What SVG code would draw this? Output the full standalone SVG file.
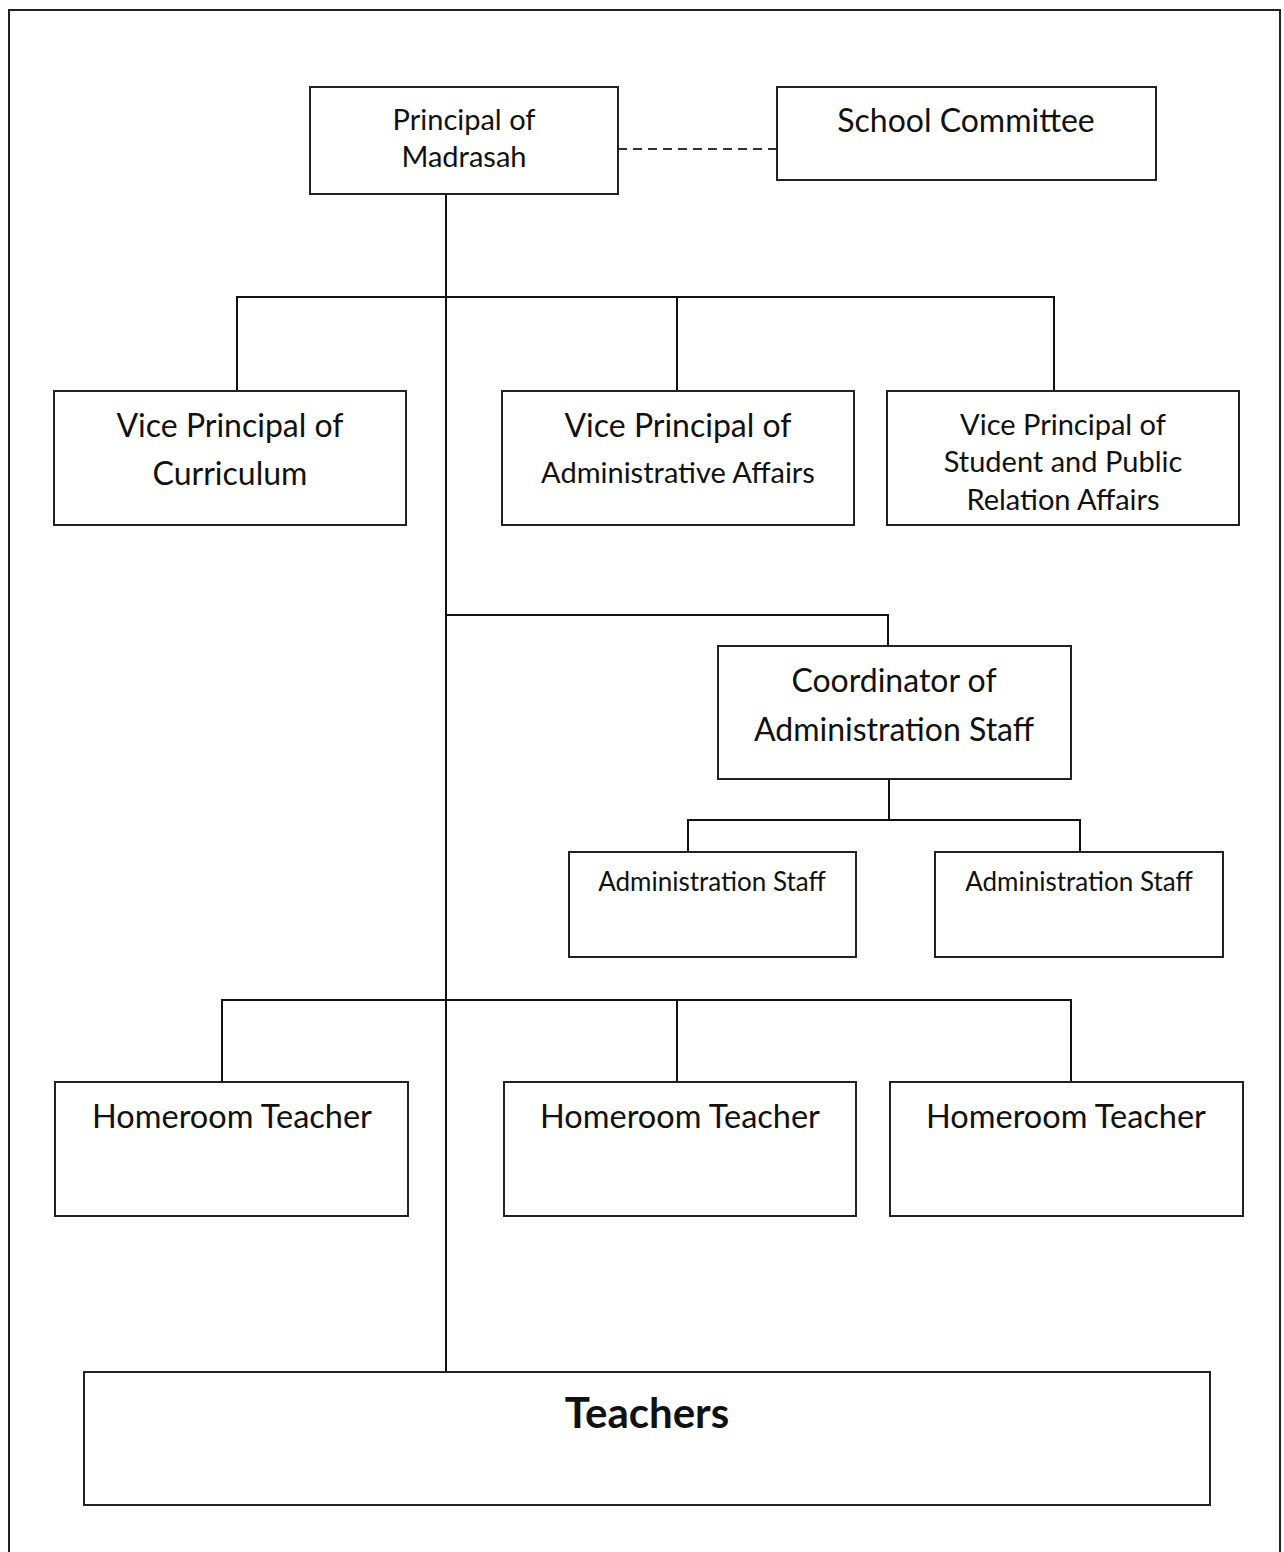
<svg xmlns="http://www.w3.org/2000/svg" width="1284" height="1552" viewBox="0 0 1284 1552">
<style>
.box{fill:#fff;stroke:#222;stroke-width:2}
.ln{fill:none;stroke:#111;stroke-width:2}
.dash{fill:none;stroke:#333;stroke-width:2;stroke-dasharray:9 6}
text{font-family:Lato,"Open Sans","Liberation Sans",sans-serif;fill:#111;text-anchor:middle}
.b{font-weight:bold}
</style>
<rect x="9" y="10" width="1271" height="1560" fill="#fff" stroke="#222" stroke-width="2"/>
<g id="connectors">
<line class="dash" x1="618" y1="149" x2="777" y2="149"/>
<line class="ln" x1="446" y1="194" x2="446" y2="1372"/>
<polyline class="ln" points="237,391 237,297 1054,297 1054,391"/>
<line class="ln" x1="677" y1="297" x2="677" y2="391"/>
<polyline class="ln" points="446,615 888,615 888,646"/>
<line class="ln" x1="889" y1="779" x2="889" y2="820"/>
<polyline class="ln" points="688,852 688,820 1080,820 1080,852"/>
<polyline class="ln" points="222,1082 222,1000 1071,1000 1071,1082"/>
<line class="ln" x1="677" y1="1000" x2="677" y2="1082"/>
</g>
<g id="principal">
<rect class="box" x="310" y="87" width="308" height="107"/>
<text x="464" y="130" font-size="29">Principal of</text>
<text x="464" y="167" font-size="29">Madrasah</text>
</g>
<g id="committee">
<rect class="box" x="777" y="87" width="379" height="93"/>
<text x="966" y="132" font-size="32">School Committee</text>
</g>
<g id="vp-curriculum">
<rect class="box" x="54" y="391" width="352" height="134"/>
<text x="230" y="437" font-size="32">Vice Principal of</text>
<text x="230" y="485" font-size="32">Curriculum</text>
</g>
<g id="vp-admin">
<rect class="box" x="502" y="391" width="352" height="134"/>
<text x="678" y="437" font-size="32">Vice Principal of</text>
<text x="678" y="483" font-size="29">Administrative Affairs</text>
</g>
<g id="vp-student">
<rect class="box" x="887" y="391" width="352" height="134"/>
<text x="1063" y="435" font-size="29">Vice Principal of</text>
<text x="1063" y="472" font-size="29">Student and Public</text>
<text x="1063" y="510" font-size="29">Relation Affairs</text>
</g>
<g id="coordinator">
<rect class="box" x="718" y="646" width="353" height="133"/>
<text x="894" y="692" font-size="32">Coordinator of</text>
<text x="894" y="741" font-size="32">Administration Staff</text>
</g>
<g id="admin-staff-1">
<rect class="box" x="569" y="852" width="287" height="105"/>
<text x="712" y="891" font-size="26">Administration Staff</text>
</g>
<g id="admin-staff-2">
<rect class="box" x="935" y="852" width="288" height="105"/>
<text x="1079" y="891" font-size="26">Administration Staff</text>
</g>
<g id="homeroom-1">
<rect class="box" x="55" y="1082" width="353" height="134"/>
<text x="232" y="1128" font-size="32.5">Homeroom Teacher</text>
</g>
<g id="homeroom-2">
<rect class="box" x="504" y="1082" width="352" height="134"/>
<text x="680" y="1128" font-size="32.5">Homeroom Teacher</text>
</g>
<g id="homeroom-3">
<rect class="box" x="890" y="1082" width="353" height="134"/>
<text x="1066" y="1128" font-size="32.5">Homeroom Teacher</text>
</g>
<g id="teachers">
<rect class="box" x="84" y="1372" width="1126" height="133"/>
<text class="b" x="647" y="1428" font-size="42">Teachers</text>
</g>
</svg>
